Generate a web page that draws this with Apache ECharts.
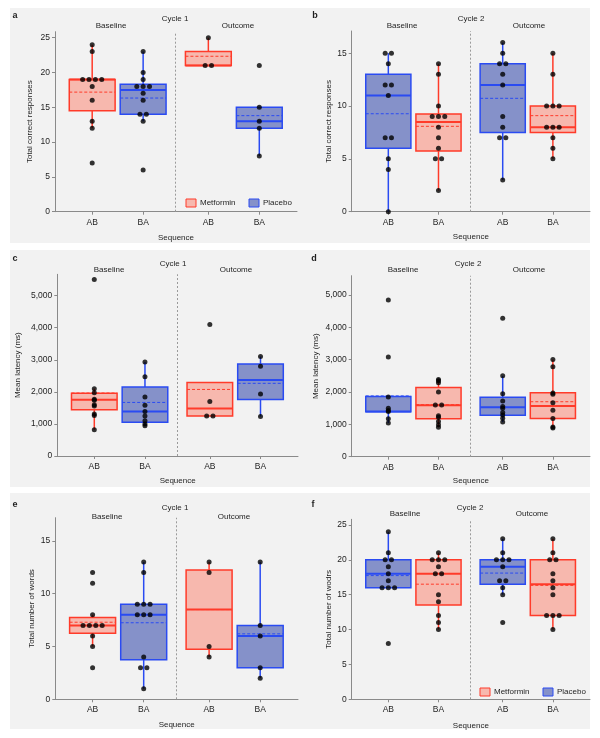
<!DOCTYPE html>
<html><head><meta charset="utf-8">
<script src="https://cdn.jsdelivr.net/npm/echarts@6/dist/echarts.min.js"></script>
<style>html,body{margin:0;padding:0;background:#fff}#c{width:600px;height:738px}</style>
</head><body><div id="c"></div>
<script>
// ---------- data ----------
const categories = ['AB', 'BA', 'AB', 'BA'];
const groupPos = [1, 2, 3.28, 4.28];
const periods = ['Baseline', 'Outcome'];
const treatments = ['Metformin', 'Placebo'];
const cycle1Drugs = [0, 1, 0, 1];   // 0 = Metformin, 1 = Placebo
const cycle2Drugs = [1, 0, 1, 0];

// box stats: [lower whisker, Q1, median, Q3, upper whisker, mean]
const aPoints = [[24,23,19,19,19,19,18,16,13,12,7],[23,20,19,18,18,18,17,16,14,14,13,6],[25,21,21],[21,15,13,12,8]];
const aBoxes  = [[12,14.5,19,19,24,17.18],[13,14,17.5,18.3,23,16.33],[21,21,21,23,25,22.33],[8,12,13,15,15,13.8]];
const bPoints = [[15,15,14,12,12,11,7,7,5,4,0],[14,13,10,9,9,9,8,7,6,5,5,2],[16,15,14,14,13,12,9,8,7,7,3],[15,13,10,10,10,8,8,8,7,6,5]];
const bBoxes  = [[0,6,11,13,15,9.27],[2,5.75,8.5,9.25,14,8.08],[3,7.5,12,14,16,10.73],[5,7.5,8,10,15,9.09]];
const cPoints = [[5500,2100,1970,1770,1740,1600,1560,1310,1260,820],[2930,2470,1840,1580,1390,1250,1100,1000,940],[4100,1700,1250,1250],[3100,2800,1930,1230]];
const cBoxes  = [[820,1440,1750,1960,2100,1963],[940,1050,1390,2150,2930,1670],[1250,1250,1480,2290,2290,2075],[1230,1760,2370,2870,3100,2265]];
const dPoints = [[4850,3080,1850,1500,1430,1400,1170,1040],[2390,2350,2290,2000,1600,1600,1270,1220,1090,990,910],[4280,2500,1950,1720,1550,1500,1370,1290,1190,1070],[3010,2780,1970,1930,1670,1440,1180,920,890]];
const dBoxes  = [[1040,1390,1400,1860,1860,1880],[910,1170,1590,2140,2390,1610],[1070,1280,1530,1840,2500,1830],[890,1180,1570,1980,3010,1700]];
const ePoints = [[12,11,8,7,7,7,7,6,5,3],[13,12,9,9,9,8,8,8,4,3,3,1],[13,12,5,4],[13,7,6,3,2]];
const eBoxes  = [[5,6.25,7,7.75,8,7.3],[1,3.75,8,9,13,7.25],[4,4.75,8.5,12.25,13,8.5],[2,3,6,7,13,6.2]];
const fPoints = [[24,21,20,20,19,18,17,16,16,16,8],[21,20,20,20,19,18,18,15,14,12,11,10],[23,21,20,20,20,19,17,17,16,15,11],[23,21,20,20,18,17,16,15,12,12,12,10]];
const fBoxes  = [[16,16,18,20,24,17.73],[10,13.5,18,20,21,16.5],[15,16.5,19,20,23,18.09],[10,12,16.5,20,23,16.33]];

const ticks25 = [0,5,10,15,20,25];
const ticks15 = [0,5,10,15];
const ticks5000 = [0,1000,2000,3000,4000,5000];

// ---------- style / layout ----------
const FONT = '"Liberation Sans", Arial, Helvetica, sans-serif';
const TXT = '#1e1e1e';
const AX = '#8a8a8a';
const STROKE = ['#ff3b2a', '#2a4bf2'];
const FILL = ['#f7b8ae', '#8591c9'];
const X_MIN = 0.27, X_MAX = 5.02, DIVIDER = 2.64, BOX_W = 0.9, TIE_STEP = 0.125;

const panels = [
  {letter:'a', cycle:'Cycle 1', yName:'Total correct responses', points:aPoints, boxes:aBoxes, drugs:cycle1Drugs, ticks:ticks25, yMax:25.86,
   L:55, T:31.7, R:297, B:211.7, yGap:21, xGap:22, lp:[15,15.7], cp:[175,19], bp:[111,26], op:[238,26], legend:[186,199]},
  {letter:'b', cycle:'Cycle 2', yName:'Total correct responses', points:bPoints, boxes:bBoxes, drugs:cycle2Drugs, ticks:ticks15, yMax:17.1,
   L:351.7, T:31, R:590, B:211.7, yGap:18.5, xGap:21, lp:[315,15.7], cp:[471,19], bp:[402,26], op:[529,26]},
  {letter:'c', cycle:'Cycle 1', yName:'Mean latency (ms)', points:cPoints, boxes:cBoxes, drugs:cycle1Drugs, ticks:ticks5000, yMax:5665,
   L:57.3, T:274.3, R:298, B:456, yGap:35.6, xGap:21, lp:[15,258.3], cp:[173,264], bp:[109,270], op:[236,270]},
  {letter:'d', cycle:'Cycle 2', yName:'Mean latency (ms)', points:dPoints, boxes:dBoxes, drugs:cycle2Drugs, ticks:ticks5000, yMax:5598,
   L:351.7, T:275.7, R:590, B:456.7, yGap:31.7, xGap:20, lp:[314,258.5], cp:[468,264], bp:[403,270], op:[529,270]},
  {letter:'e', cycle:'Cycle 1', yName:'Total number of words', points:ePoints, boxes:eBoxes, drugs:cycle1Drugs, ticks:ticks15, yMax:17.2,
   L:55.3, T:517.7, R:298, B:699.3, yGap:19.6, xGap:21.7, lp:[15,505], cp:[175,507.3], bp:[107,516.7], op:[234,516.7]},
  {letter:'f', cycle:'Cycle 2', yName:'Total number of wodrs', points:fPoints, boxes:fBoxes, drugs:cycle2Drugs, ticks:ticks25, yMax:25.8,
   L:351.7, T:519.3, R:590, B:699.3, yGap:18.5, xGap:22, lp:[313,505], cp:[470,507.3], bp:[405,514], op:[532,514], legend:[480,688]}
];

function nearestCat(v){
  let best = 0;
  groupPos.forEach((p,i)=>{ if (Math.abs(p-v) < Math.abs(groupPos[best]-v)) best = i; });
  return categories[best];
}

function spreadPoints(groups){
  const out = [];
  groups.forEach((vals, j) => {
    const counts = {};
    vals.forEach(v => counts[v] = (counts[v] || 0) + 1);
    const seen = {};
    vals.forEach(v => {
      const k = seen[v] || 0; seen[v] = k + 1;
      out.push([groupPos[j] + (k - (counts[v] - 1) / 2) * TIE_STEP, v]);
    });
  });
  return out;
}

function renderBox(params, api){
  const x = api.value(0);
  const lo = api.coord([x, api.value(1)]), q1 = api.coord([x, api.value(2)]), md = api.coord([x, api.value(3)]);
  const q3 = api.coord([x, api.value(4)]), hi = api.coord([x, api.value(5)]), mn = api.coord([x, api.value(6)]);
  const d = api.value(7);
  const hw = api.size([BOX_W, 0])[0] / 2;
  const cx = lo[0], s = STROKE[d], f = FILL[d];
  return {type:'group', children:[
    {type:'line', shape:{x1:cx, y1:lo[1], x2:cx, y2:q1[1]}, style:{stroke:s, lineWidth:1.5}},
    {type:'line', shape:{x1:cx, y1:q3[1], x2:cx, y2:hi[1]}, style:{stroke:s, lineWidth:1.5}},
    {type:'rect', shape:{x:cx-hw, y:q3[1], width:2*hw, height:q1[1]-q3[1]}, style:{fill:f, stroke:s, lineWidth:1.5}},
    {type:'line', shape:{x1:cx-hw, y1:md[1], x2:cx+hw, y2:md[1]}, style:{stroke:s, lineWidth:2}},
    {type:'line', shape:{x1:cx-hw, y1:mn[1], x2:cx+hw, y2:mn[1]}, style:{stroke:s, lineWidth:1, lineDash:[3,2]}}
  ]};
}

function txt(x, y, text, opts){
  opts = opts || {};
  return {type:'text', x:x, y:y, z:50, style:{text:text, font:(opts.bold?'bold ':'') + (opts.size||8) + 'px ' + FONT, fill:TXT,
    align:opts.align||'center', verticalAlign:'middle', textAlign:opts.align||'center', textVerticalAlign:'middle'}};
}

const option = {backgroundColor:'#ffffff', animation:false, grid:[], xAxis:[], yAxis:[], series:[], graphic:[]};

// panel backgrounds
[[8,243],[250,487],[493,729]].forEach(r => {
  option.graphic.push({type:'rect', z:-10, shape:{x:10, y:r[0], width:580, height:r[1]-r[0]}, style:{fill:'#f2f2f2'}});
});

panels.forEach((p, i) => {
  option.grid.push({left:p.L, top:p.T, width:p.R-p.L, height:p.B-p.T});
  option.xAxis.push({
    type:'value', gridIndex:i, min:X_MIN, max:X_MAX,
    name:'Sequence', nameLocation:'middle', nameGap:p.xGap,
    nameTextStyle:{fontFamily:FONT, fontSize:8, color:TXT},
    axisLine:{show:true, lineStyle:{color:AX, width:1}},
    axisTick:{show:true, customValues:groupPos, length:3, lineStyle:{color:AX}},
    axisLabel:{show:true, customValues:groupPos, formatter:v => nearestCat(v), margin:6, fontFamily:FONT, fontSize:8.5, color:TXT},
    splitLine:{show:false}
  });
  option.yAxis.push({
    type:'value', gridIndex:i, min:0, max:p.yMax,
    name:p.yName, nameLocation:'middle', nameGap:p.yGap,
    nameTextStyle:{fontFamily:FONT, fontSize:8, color:TXT},
    axisLine:{show:true, lineStyle:{color:AX, width:1}},
    axisTick:{show:true, customValues:p.ticks, length:3, lineStyle:{color:AX}},
    axisLabel:{show:true, customValues:p.ticks, formatter:v => Number(v).toLocaleString('en-US'), margin:5, fontFamily:FONT, fontSize:8.5, color:TXT},
    splitLine:{show:false}
  });
  option.series.push({
    type:'custom', xAxisIndex:i, yAxisIndex:i, z:2, renderItem:renderBox,
    encode:{x:0, y:[1,2,3,4,5,6]},
    data:p.boxes.map((b, j) => [groupPos[j]].concat(b).concat([p.drugs[j]])),
    markLine:{silent:true, symbol:'none', label:{show:false}, animation:false,
      lineStyle:{color:'#9a9a9a', type:[2,2], width:1}, data:[{xAxis:DIVIDER}]}
  });
  option.series.push({
    type:'scatter', xAxisIndex:i, yAxisIndex:i, z:5, symbolSize:5,
    itemStyle:{color:'#000'}, data:spreadPoints(p.points)
  });
  option.graphic.push(txt(p.lp[0], p.lp[1], p.letter, {bold:true, size:9}));
  option.graphic.push(txt(p.cp[0], p.cp[1], p.cycle));
  option.graphic.push(txt(p.bp[0], p.bp[1], periods[0]));
  option.graphic.push(txt(p.op[0], p.op[1], periods[1]));
  if (p.legend){
    const lx = p.legend[0], ly = p.legend[1];
    treatments.forEach((name, k) => {
      const ox = lx + k * 63;
      option.graphic.push({type:'rect', z:50, shape:{x:ox, y:ly, width:10, height:8}, style:{fill:FILL[k], stroke:STROKE[k], lineWidth:1}});
      option.graphic.push(txt(ox + 14, ly + 4, name, {align:'left'}));
    });
  }
});

const chart = echarts.init(document.getElementById('c'), null, {renderer:'canvas'});
chart.setOption(option);
</script>
</body></html>
